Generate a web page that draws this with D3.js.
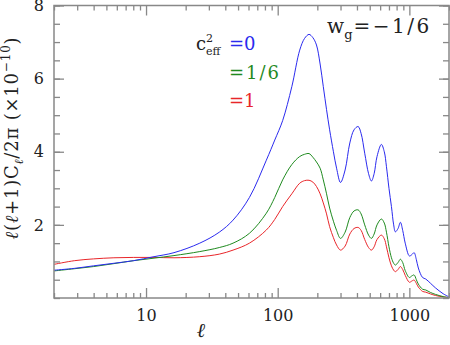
<!DOCTYPE html>
<meta charset="utf-8">
<style>
  body { margin: 0; background: #fff; }
  svg text { font-family: "DejaVu Serif", serif !important; }
</style>
<svg width="450" height="345"></svg>
<script src="https://cdn.jsdelivr.net/npm/d3@7"></script>
<script>

// multipole values sampled along the curves
var ell = [2, 2.85, 4, 5.7, 8, 11.5, 16.3, 25.6, 36, 45.8, 61, 82, 95, 109, 128, 147, 160, 173, 185, 197,
  210, 222, 235, 248, 265, 280, 300, 325, 353, 380, 408, 430, 458, 490, 515, 540, 568, 613, 645, 670,
  700, 731, 760, 783, 820, 855, 890, 930, 1000, 1040, 1086, 1130, 1170, 1260, 1330, 1450, 1575, 1800, 2000];

// c_eff^2 = 0
var blueVals = [0.76, 0.81, 0.88, 0.95, 1.02, 1.13, 1.24, 1.5, 1.8, 2.13, 2.75, 3.77, 4.32, 4.85, 5.78, 6.78, 7.1, 7.21, 7.12, 6.92,
  6.4, 5.78, 5.15, 4.6, 4.0, 3.55, 3.16, 3.5, 4.24, 4.6, 4.69, 4.5, 3.96, 3.4, 3.2, 3.4, 3.87, 4.2, 4.0, 3.59,
  3.0, 2.5, 2.0, 1.81, 1.9, 2.07, 1.85, 1.5, 1.15, 1.18, 1.24, 1.05, 0.82, 0.56, 0.52, 0.4, 0.28, 0.12, 0.03];

// c_eff^2 = 1/6
var greenVals = [0.74, 0.8, 0.86, 0.94, 1.02, 1.09, 1.16, 1.27, 1.38, 1.5, 1.77, 2.32, 2.75, 3.23, 3.65, 3.87, 3.93, 3.95, 3.85, 3.72,
  3.55, 3.23, 2.85, 2.46, 2.1, 1.85, 1.63, 1.8, 2.2, 2.38, 2.41, 2.3, 2.0, 1.72, 1.63, 1.75, 2.0, 2.16, 2.05, 1.8,
  1.4, 1.1, 0.95, 0.9, 0.97, 1.06, 0.97, 0.75, 0.56, 0.6, 0.63, 0.5, 0.38, 0.24, 0.22, 0.15, 0.1, 0.04, 0.01];

// c_eff^2 = 1
var redVals = [0.92, 1.02, 1.07, 1.1, 1.11, 1.11, 1.1, 1.13, 1.2, 1.31, 1.5, 1.86, 2.15, 2.5, 2.85, 3.14, 3.21, 3.22, 3.17, 3.05,
  2.85, 2.6, 2.3, 1.95, 1.65, 1.45, 1.31, 1.42, 1.75, 1.9, 1.93, 1.85, 1.6, 1.38, 1.31, 1.4, 1.6, 1.72, 1.62, 1.4,
  1.1, 0.88, 0.76, 0.72, 0.78, 0.86, 0.78, 0.62, 0.43, 0.46, 0.49, 0.4, 0.3, 0.18, 0.16, 0.11, 0.07, 0.03, 0.01];

var xMajor = [10, 100, 1000];
var xMinor = [2, 3, 4, 5, 6, 7, 8, 9, 20, 30, 40, 50, 60, 70, 80, 90, 200, 300, 400, 500, 600, 700, 800, 900, 2000];
var yMajor = [2, 4, 6, 8];
var yMinor = d3.range(0, 8.01, 0.5);

var svg = d3.select("svg"),
    pL = 54, pR = 449, pT = 5.5, pB = 298;

var x = d3.scaleLog().domain([2, 2000]).range([pL, pR]);
var y = d3.scaleLinear().domain([0, 8]).range([pB, pT]);

svg.append("clipPath").attr("id", "clip")
  .append("rect").attr("x", pL).attr("y", pT).attr("width", pR - pL).attr("height", pB - pT);

var line = d3.line()
    .x(function(d) { return x(d[0]); })
    .y(function(d) { return y(d[1]); })
    .curve(d3.curveCatmullRom.alpha(0.5));

var series = [
  {vals: redVals, color: "#e8262a"},
  {vals: greenVals, color: "#1f8a1f"},
  {vals: blueVals, color: "#2a2aee"}
];

series.forEach(function(s) {
  svg.append("path")
    .attr("clip-path", "url(#clip)")
    .attr("d", line(ell.map(function(l, i) { return [l, s.vals[i]]; })))
    .attr("fill", "none")
    .attr("stroke", s.color)
    .attr("stroke-width", 1);
});

// axes, ticks pointing inward on all four sides
function styleAxis(g) {
  g.attr("font-family", null);
  g.select(".domain").remove();
  g.selectAll("line").attr("stroke", "#888").attr("stroke-width", 1.3);
  g.selectAll("text").attr("fill", "#222").style("font-size", "16px");
}

svg.append("g").attr("transform", "translate(0," + pB + ")")
  .call(d3.axisBottom(x).tickValues(xMinor).tickSize(-5).tickFormat(""))
  .call(styleAxis);
svg.append("g").attr("transform", "translate(0," + pB + ")")
  .call(d3.axisBottom(x).tickValues(xMajor).tickSize(-10).tickPadding(12).tickFormat(d3.format("d")))
  .call(styleAxis);
svg.append("g").attr("transform", "translate(0," + pT + ")")
  .call(d3.axisTop(x).tickValues(xMinor).tickSize(-5).tickFormat(""))
  .call(styleAxis);
svg.append("g").attr("transform", "translate(0," + pT + ")")
  .call(d3.axisTop(x).tickValues(xMajor).tickSize(-10).tickFormat(""))
  .call(styleAxis);

svg.append("g").attr("transform", "translate(" + pL + ",0)")
  .call(d3.axisLeft(y).tickValues(yMinor).tickSize(-6).tickFormat(""))
  .call(styleAxis);
svg.append("g").attr("transform", "translate(" + pL + ",0)")
  .call(d3.axisLeft(y).tickValues(yMajor).tickSize(-10).tickPadding(10).tickFormat(d3.format("d")))
  .call(styleAxis);
svg.append("g").attr("transform", "translate(" + pR + ",0)")
  .call(d3.axisRight(y).tickValues(yMinor).tickSize(-6).tickFormat(""))
  .call(styleAxis);
svg.append("g").attr("transform", "translate(" + pR + ",0)")
  .call(d3.axisRight(y).tickValues(yMajor).tickSize(-10).tickFormat(""))
  .call(styleAxis);

svg.append("rect")
  .attr("x", pL).attr("y", pT)
  .attr("width", pR - pL).attr("height", pB - pT)
  .attr("fill", "none").attr("stroke", "#888").attr("stroke-width", 1.5);

// axis titles
svg.append("text")
  .attr("x", 201).attr("y", 337)
  .attr("text-anchor", "middle")
  .attr("fill", "#222")
  .style("font-size", "20px").style("font-style", "italic")
  .text("ℓ");

var yl = svg.append("text")
  .attr("transform", "translate(18,138) rotate(-90)")
  .attr("text-anchor", "middle")
  .attr("fill", "#222")
  .style("font-size", "18px")
  .style("letter-spacing", "0.8px");
yl.append("tspan").style("font-style", "italic").text("ℓ");
yl.append("tspan").text("(");
yl.append("tspan").style("font-style", "italic").text("ℓ");
yl.append("tspan").text("+1)C");
yl.append("tspan").attr("dy", 5).style("font-size", "12px").style("font-style", "italic").text("ℓ");
yl.append("tspan").attr("dy", -5).text("/2π  (×10");
yl.append("tspan").attr("dy", -8).style("font-size", "12px").text("−10");
yl.append("tspan").attr("dy", 8).text(")");

// legend
var lg = svg.append("g").style("font-size", "18px");
var t0 = lg.append("text").attr("x", 196).attr("y", 50).attr("fill", "#222");
t0.append("tspan").text("c");
t0.append("tspan").attr("dy", -8).style("font-size", "11px").text("2");
t0.append("tspan").attr("x", 206).attr("dy", 13).style("font-size", "11px").text("eff");
t0.append("tspan").attr("x", 229).attr("dy", -5).attr("fill", "#2a2aee").text("=0");

lg.append("text").attr("x", 229).attr("y", 79).attr("fill", "#1f8a1f")
  .style("letter-spacing", "2px").text("=1/6");
lg.append("text").attr("x", 229).attr("y", 107).attr("fill", "#e8262a").text("=1");

var tw = svg.append("text").attr("x", 327).attr("y", 33).attr("fill", "#222").style("font-size", "20px");
tw.append("tspan").text("w");
tw.append("tspan").attr("dy", 6).style("font-size", "13px").text("g");
tw.append("tspan").attr("dy", -6).attr("dx", 1).style("letter-spacing", "2.5px").text("=−1/6");

</script>
